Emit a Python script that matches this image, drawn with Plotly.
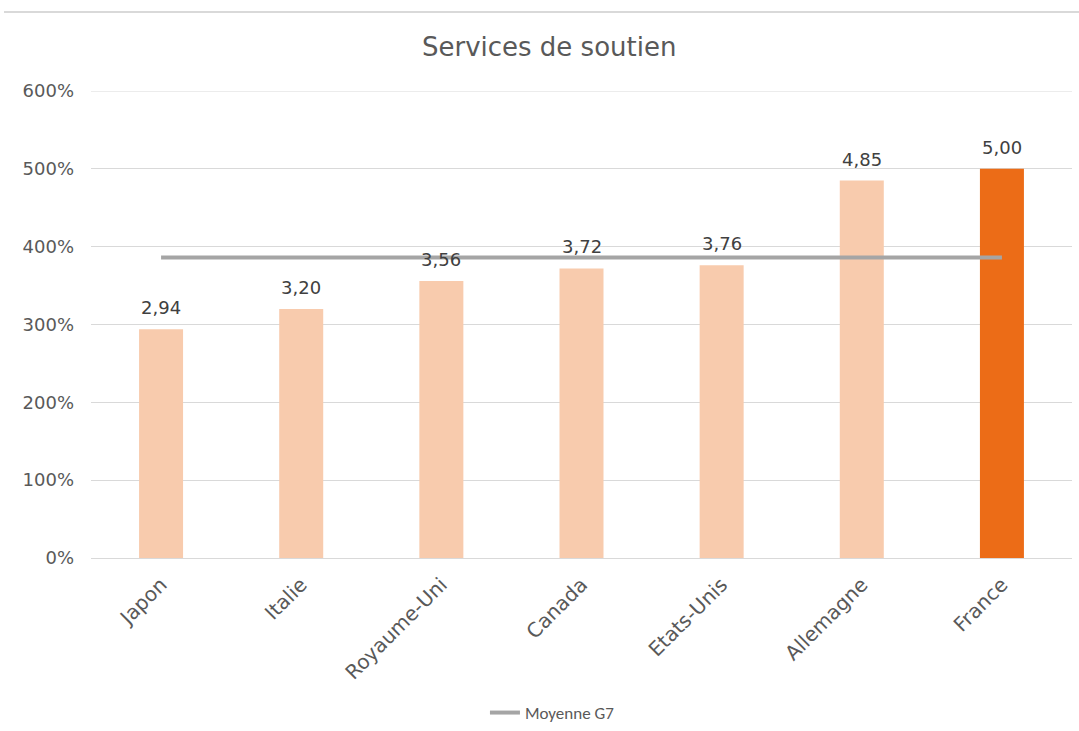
import plotly.graph_objects as go

categories = ["Japon", "Italie", "Royaume-Uni", "Canada", "Etats-Unis", "Allemagne", "France"]
values = [2.94, 3.20, 3.56, 3.72, 3.76, 4.85, 5.00]
bar_colors = ["#F8CBAD"] * 6 + ["#EC6C17"]
moyenne_g7 = [sum(values) / len(values)] * len(values)
labels = [f"{v:.2f}".replace(".", ",") for v in values]

FONT = "DejaVu Sans"
TXT = "#595959"

fig = go.Figure()
fig.add_trace(go.Bar(
    x=categories, y=values, marker=dict(color=bar_colors, line_width=0),
    showlegend=False, hoverinfo="skip",
))
fig.add_trace(go.Scatter(
    x=categories, y=moyenne_g7, mode="lines", name="Moyenne G7",
    line=dict(color="#A5A5A5", width=4),
))

for c, v, t in zip(categories, values, labels):
    fig.add_annotation(x=c, y=v, text=t, showarrow=False, yanchor="bottom",
                       yshift=9, font=dict(family=FONT, size=18, color="#404040"))

fig.update_layout(
    width=1079, height=731,
    margin=dict(l=91, r=7, t=91, b=173),
    paper_bgcolor="white", plot_bgcolor="white",
    bargap=0.686,
    title=dict(text="Services de soutien", x=0.509, xanchor="center",
               y=1 - 47 / 731, yanchor="middle",
               font=dict(family=FONT, size=26, color=TXT)),
    xaxis=dict(tickangle=-45, tickfont=dict(family=FONT, size=20, color=TXT),
               showgrid=False, showline=False, ticks="", ticklabelstandoff=10),
    yaxis=dict(range=[0, 6], dtick=1, tickformat=".0%",
               tickfont=dict(family=FONT, size=18, color=TXT),
               gridcolor="#D9D9D9", gridwidth=1, zeroline=True,
               zerolinecolor="#D9D9D9", zerolinewidth=1,
               showline=False, ticks="", ticklabelstandoff=16),
    legend=dict(orientation="h", xref="container", x=0.512, xanchor="center",
                yref="container", y=0.0, yanchor="bottom",
                font=dict(family="Carlito, Liberation Sans", size=17, color=TXT)),
    shapes=[
        dict(type="line", xref="paper", yref="paper",
             x0=-87 / 981, x1=1.01, y0=1 + 79 / 467, y1=1 + 79 / 467,
             line=dict(color="#D9D9D9", width=2)),
        dict(type="line", xref="paper", yref="y", x0=0, x1=1, y0=6, y1=6,
             line=dict(color="#D9D9D9", width=1), layer="below"),
    ],
)

fig.write_html("out.html", config={"displayModeBar": False},
               post_script="document.body.style.margin='0';document.body.style.padding='0';")
